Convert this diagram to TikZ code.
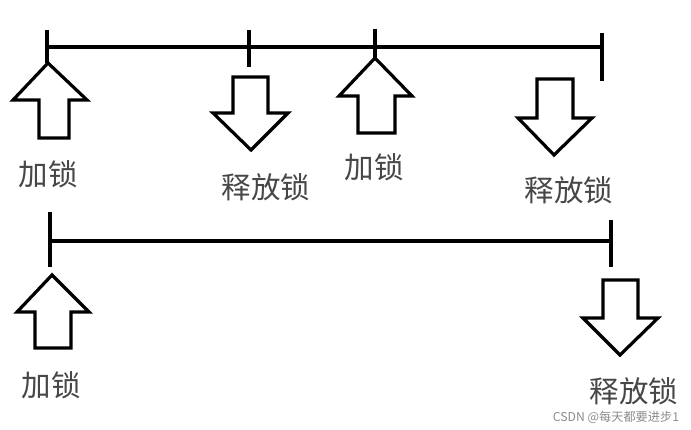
\documentclass[tikz,border=0pt]{standalone}
\usepackage{fontspec}
\newfontfamily\cjk{Noto Sans CJK SC}
\tikzset{
  axis/.style={line width=3.2pt, line cap=butt},
  bigarrow/.style={draw=black, line width=3.2pt, line join=miter, fill=white},
  lbl/.style={font=\cjk\fontsize{29.5}{33}\selectfont, text=black!72, inner sep=0pt},
  wm/.style={font=\cjk\fontsize{12.2}{14}\selectfont, text=black!45, inner sep=0pt}
}
\begin{document}
\begin{tikzpicture}[x=1pt,y=-1pt]
\useasboundingbox (0,0) rectangle (691,430);
% top timeline
\coordinate (t1) at (47,47);
\coordinate (t4) at (602,47);
\coordinate (t1a) at (47,30);  \coordinate (t1b) at (47,63);
\coordinate (t2a) at (249,30); \coordinate (t2b) at (249,67);
\coordinate (t3a) at (375,29); \coordinate (t3b) at (375,58);
\coordinate (t4a) at (602,33); \coordinate (t4b) at (602,81);
\draw[axis] (t1) -- (t4);
\draw[axis] (t1a) -- (t1b);
\draw[axis] (t2a) -- (t2b);
\draw[axis] (t3a) -- (t3b);
\draw[axis] (t4a) -- (t4b);
% bottom timeline
\coordinate (b1) at (50,241);
\coordinate (b2) at (611,241);
\coordinate (b1a) at (50,212); \coordinate (b1b) at (50,267);
\coordinate (b2a) at (611,220); \coordinate (b2b) at (611,267);
\draw[axis] (b1) -- (b2);
\draw[axis] (b1a) -- (b1b);
\draw[axis] (b2a) -- (b2b);
% arrows (up)
\draw[bigarrow] (48,63) -- (87,100) -- (69,100) -- (69,138) -- (39,138) -- (39,100) -- (13,100) -- cycle;
\draw[bigarrow] (375,58) -- (412,96) -- (395,96) -- (395,133) -- (358,133) -- (358,96) -- (339,96) -- cycle;
\draw[bigarrow] (52,275) -- (89,312) -- (71,312) -- (71,348) -- (35,348) -- (35,312) -- (17,312) -- cycle;
% arrows (down)
\draw[bigarrow] (233,77) -- (268,77) -- (268,113) -- (288,113) -- (251,150) -- (213,113) -- (233,113) -- cycle;
\draw[bigarrow] (537,79) -- (573,79) -- (573,118) -- (592,118) -- (554,155) -- (518,118) -- (537,118) -- cycle;
\draw[bigarrow] (603,280) -- (638,280) -- (638,318) -- (658,318) -- (620,355) -- (583,318) -- (603,318) -- cycle;
% labels
\node[lbl] (l1) at (48,174) {加锁};
\node[lbl] (l2) at (266,187) {释放锁};
\node[lbl] (l3) at (374,167) {加锁};
\node[lbl] (l4) at (569,190) {释放锁};
\node[lbl] (l5) at (51,385) {加锁};
\node[lbl] (l6) at (634,391) {释放锁};
\node[wm] (w) at (616,417) {CSDN @每天都要进步1};
\end{tikzpicture}
\end{document}
